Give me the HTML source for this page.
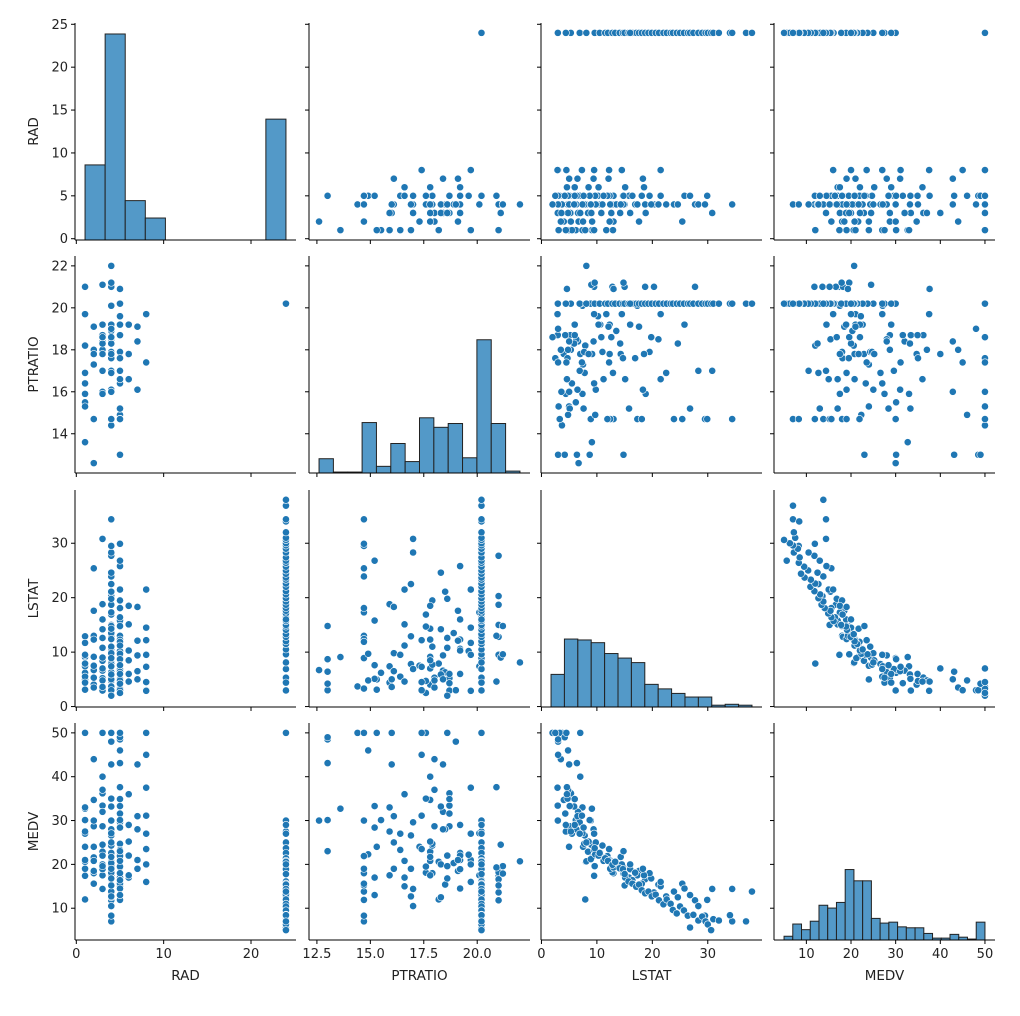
<!DOCTYPE html>
<html><head><meta charset="utf-8"><style>
body{margin:0;background:#fff}
svg text{font-family:"DejaVu Sans","Liberation Sans",sans-serif;fill:#222}
</style></head><body>
<svg id="chart" width="1020" height="1011" viewBox="0 0 1020 1011" xmlns="http://www.w3.org/2000/svg"></svg>
<script>
const varNames = ["RAD","PTRATIO","LSTAT","MEDV"];
const domains = [[-0.15,25.15],[12.13,22.47],[-0.08,39.78],[2.75,52.25]];
const ticks = [[0,10,20],[12.5,15,17.5,20],[0,10,20,30],[10,20,30,40,50]];
const yTicks = [[0,5,10,15,20,25],[14,16,18,20,22],[0,10,20,30],[10,20,30,40,50]];
const tickLabels = [["0","10","20"],["12.5","15.0","17.5","20.0"],["0","10","20","30"],["10","20","30","40","50"]];
const yTickLabels = [["0","5","10","15","20","25"],["14","16","18","20","22"],["0","10","20","30"],["10","20","30","40","50"]];
const radHist = [82,225,43,24,0,0,0,0,0,132];
const ptHist = [15,1,1,53,7,31,12,58,48,52,16,140,52,2];
const lstatHist = [36,75,74,71,59,54,49,25,20,15,11,11,2,3,2];
const medvHist = [4,17,11,20,37,34,40,75,63,63,23,18,19,14,13,13,7,2,2,6,3,1,19];
const binStart = [1,12.6,1.73,5];
const binWidth = [2.3,0.6714,2.416,1.9565];
const histMax = [237,228,239.5,231];
const rad = [
1,1,1,1,1,1,1,1,1,1,1,1,
2,2,2,2,2,2,2,2,2,2,
3,3,3,3,3,3,3,3,3,3,3,3,3,3,3,
4,4,4,4,4, 4,4,4,4,4, 4,4,4,4,4, 4,4,4,4,4, 4,4,4,4,4, 4,4,4,4,4, 4,4,4,4,4,
5,5,5,5,5, 5,5,5,5,5, 5,5,5,5,5, 5,5,5,5,5, 5,5,5,5,5, 5,5,5,5,5, 5,5,
6,6,6,6,6,6,
7,7,7,7,7,
8,8,8,8,8,8,8,8,
24,24,24,24,24, 24,24,24,24,24, 24,24,24,24,24, 24,24,24,24,24, 24,24,24,24,24, 24,24,24,24,24, 24,24,24,24,24, 24,24,24,24,24, 24,24,24,24,24, 24,24];
const ptratio = [
15.3,13.6,15.5,15.9,16.4,16.9,18.2,19.7,21.0,15.3,18.2,15.9,
17.8,17.8,18.0,12.6,14.7,19.1,17.3,18.0,17.8,14.7,
18.7,18.7,18.7,17.8,18.0,18.4,18.6,18.3,16.0,15.9,17.0,21.1,19.2,17.8,18.6,
21.0,21.0,21.0,21.0,21.0,21.2,21.2,22.0,20.1,19.2,18.9,18.5,18.5,17.9,17.6,17.6,16.9,16.1,16.0,14.7,14.7,14.7,14.7,14.7,14.4,18.3,18.6,17.0,19.0,18.3,20.1,14.7,17.8,18.6,16.9,
20.2,20.9,20.9,19.6,19.2,18.7,17.9,17.6,17.0,16.6,16.4,15.2,15.2,14.9,14.9,14.7,14.7,14.7,14.7,13.0,13.0,13.0,13.0,13.0,17.9,19.2,15.2,17.6,16.6,20.2,15.2,18.7,
19.2,17.8,16.6,19.2,16.6,17.8,
19.1,18.4,16.1,18.4,16.1,
19.7,17.4,17.4,19.7,17.4,19.7,17.4,19.7,
20.2,20.2,20.2,20.2,20.2, 20.2,20.2,20.2,20.2,20.2, 20.2,20.2,20.2,20.2,20.2, 20.2,20.2,20.2,20.2,20.2, 20.2,20.2,20.2,20.2,20.2, 20.2,20.2,20.2,20.2,20.2, 20.2,20.2,20.2,20.2,20.2, 20.2,20.2,20.2,20.2,20.2, 20.2,20.2,20.2,20.2,20.2, 20.2,20.2];
const lstat = [
4.98,9.1,6.2,7.4,5.5,12.9,8.0,11.7,9.5,3.1,7.9,4.4,
9.14,4.03,5.3,6.7,13.0,17.6,7.5,3.5,12.3,25.4,
2.94,5.33,5.21,8.4,4.8,6.6,10.8,14.2,3.6,18.8,30.8,9.0,16.0,7.0,12.6,
20.3,12.8,18.7,27.7,15.0,9.6,14.8,8.1,17.3,10.6,13.5,21.1,6.3,11.0,16.9,4.7,7.8,9.8,5.0,23.9,17.3,12.4,8.9,34.4,3.7,24.6,19.8,28.3,3.0,5.9,7.4,29.5,14.3,2.0,22.5,
8.9,13.0,4.6,10.2,12.3,4.3,7.7,14.7,6.9,21.5,9.5,5.1,15.8,4.8,9.7,29.9,11.9,18.1,3.3,3.0,6.4,8.7,14.8,4.2,19.5,25.8,7.6,2.5,11.2,16.4,26.8,6.0,
10.3,8.5,15.1,6.0,4.6,18.5,
12.1,5.0,6.5,9.4,18.3,
9.5,4.5,12.2,21.5,7.3,14.5,3.0,2.9,
7.0,2.96,5.3,6.9,8.1,9.6,10.5,11.5,12.0,12.8,13.3,14.1,14.7,15.0,15.7,16.4,17.1,17.6,18.1,18.7,19.3,19.9,20.6,21.2,22.0,22.6,23.3,23.7,24.4,25.0,25.7,26.4,26.8,27.4,28.3,29.0,29.6,30.0,30.6,31.0,32.0,34.0,34.4,36.9,37.97,16.0,4.4];
const medv = [
24.0,32.7,30.1,33.0,27.0,19.0,20.6,21.0,17.4,50.0,12.0,27.5,
21.6,34.7,28.7,30.0,18.0,18.5,24.0,44.0,20.8,15.6,
33.4,36.2,28.7,22.9,37.0,32.0,22.0,20.0,50.0,17.5,14.4,24.5,18.9,40.0,19.6,
13.6,18.2,16.6,11.8,15.2,19.6,17.9,20.7,17.5,22.6,20.3,15.4,28.0,24.3,18.1,35.0,26.6,25.0,42.8,13.8,15.2,19.0,30.0,7.0,50.0,12.5,16.8,10.5,48.0,33.2,27.1,8.3,21.7,50.0,12.7,
21.2,19.3,37.6,22.2,21.0,31.6,24.7,19.5,29.6,15.0,23.3,33.3,17.0,46.0,22.3,11.9,21.9,15.6,50.0,48.5,43.1,30.1,23.0,49.0,18.0,14.5,28.4,50.0,20.8,16.4,13.0,34.9,
22.0,25.2,17.0,29.0,36.0,17.5,
21.0,42.8,31.0,28.0,19.0,
27.0,50.0,23.5,16.0,31.1,20.0,45.0,37.5,
50.0,30.0,27.5,27.0,25.0,23.7,22.6,21.4,20.8,19.9,20.6,19.1,18.9,17.8,16.1,15.6,14.9,15.4,14.1,13.4,13.8,12.7,13.1,11.8,10.9,12.0,11.0,9.6,8.8,10.4,9.5,8.3,5.6,8.5,7.2,8.1,7.0,6.3,5.0,7.5,7.2,8.4,14.4,7.0,13.8,20.0,29.0];
const cols = [rad, ptratio, lstat, medv];
const hists = [radHist, ptHist, lstatHist, medvHist];

const NS = "http://www.w3.org/2000/svg";
const svg = document.getElementById("chart");
const colLeft = [75,309,541,774], rowTop = [23,256,490,723], W = 221, H = 217;
function xScale(j,v){const d=domains[j];return colLeft[j]+(v-d[0])/(d[1]-d[0])*W;}
function yScale(i,v){const d=domains[i];return rowTop[i]+H-(v-d[0])/(d[1]-d[0])*H;}
function hScale(i,c){return rowTop[i]+H-c/histMax[i]*H;}
function mk(tag,attrs,parent){const e=document.createElementNS(NS,tag);for(const k in attrs)e.setAttribute(k,attrs[k]);(parent||svg).appendChild(e);return e;}

const nPts = Math.min(rad.length, ptratio.length, lstat.length, medv.length);
for(let i=0;i<4;i++){
  for(let j=0;j<4;j++){
    const g = mk("g",{});
    
    
    const L=colLeft[j],T=rowTop[i],B=T+H;
    if(i===j){
      const counts=hists[i];
      for(let k=0;k<counts.length;k++){
        if(counts[k]<=0) continue;
        const x0=xScale(j,binStart[j]+k*binWidth[j]), x1=xScale(j,binStart[j]+(k+1)*binWidth[j]);
        const y=hScale(i,counts[k]);
        const r=mk("rect",{x:x0,y:y,width:x1-x0,height:B-y,fill:"#5399c8",stroke:"#222","stroke-width":1},g);
        
        
      }
    } else {
      const xs=cols[j], ys=cols[i];
      for(let k=0;k<nPts;k++){
        const c=mk("circle",{cx:xScale(j,xs[k]),cy:yScale(i,ys[k]),r:3.6,fill:"#1f77b4",stroke:"#fff","stroke-width":0.6},g);
        
        
      }
    }
    mk("line",{x1:L,y1:T,x2:L,y2:B,stroke:"#000","stroke-width":1},g);
    mk("line",{x1:L,y1:B,x2:L+W,y2:B,stroke:"#000","stroke-width":1},g);
    ticks[j].forEach((t,n)=>{
      const x=xScale(j,t);
      mk("line",{x1:x,y1:B,x2:x,y2:B+4,stroke:"#000","stroke-width":1},g);
      if(i===3){const tx=mk("text",{x:x,y:B+18,"text-anchor":"middle","font-size":13},g);tx.textContent=tickLabels[j][n];
        
        }
    });
    yTicks[i].forEach((t,n)=>{
      const y=yScale(i,t);
      mk("line",{x1:L-4,y1:y,x2:L,y2:y,stroke:"#000","stroke-width":1},g);
      if(j===0){const tx=mk("text",{x:L-7,y:y+4.5,"text-anchor":"end","font-size":13},g);tx.textContent=yTickLabels[i][n];
        
        }
    });
  }
  const yl=mk("text",{x:0,y:0,"text-anchor":"middle","font-size":13.5,transform:"translate(38,"+(rowTop[i]+H/2)+") rotate(-90)"});
  yl.textContent=varNames[i];
  
  
  const xl=mk("text",{x:colLeft[i]+W/2,y:980,"text-anchor":"middle","font-size":13.5});
  xl.textContent=varNames[i];
  
  
}
</script>
</body></html>
